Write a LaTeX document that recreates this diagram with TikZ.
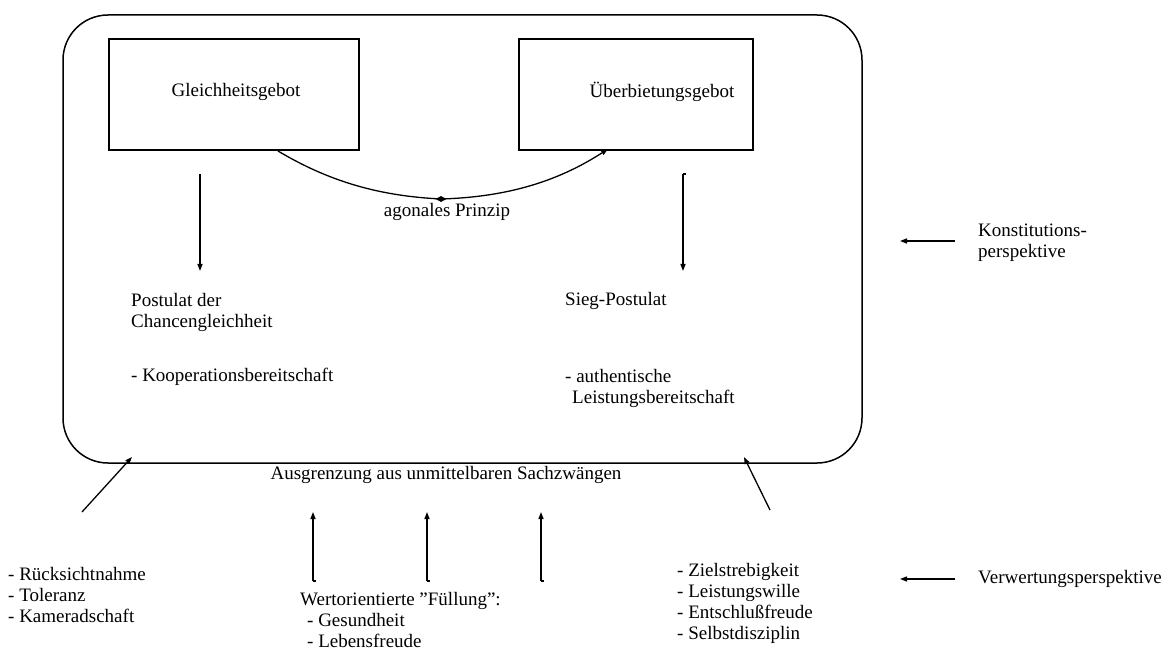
\documentclass[tikz,border=0pt]{standalone}
\usepackage{fontspec}
\setmainfont{Liberation Serif}
\usetikzlibrary{arrows.meta,shapes.geometric}
\begin{document}
\begin{tikzpicture}[x=1pt,y=-1pt,
  txt/.style={anchor=west,inner sep=0pt,font=\fontsize{19}{21}\selectfont,align=left},
  ctxt/.style={inner sep=0pt,font=\fontsize{19}{21}\selectfont,align=center},
  boxn/.style={draw,line width=1.3pt,inner sep=0pt},
  conn/.style={line width=1.3pt,-{Triangle[length=7pt,width=5pt]}},
  plain/.style={line width=1.3pt}]
\useasboundingbox (0,0) rectangle (1171,671);
% outer rounded frame
\draw[line width=1.5pt,rounded corners=45pt] (63,15) rectangle (862,463);
% top boxes
\node[boxn,minimum width=250pt,minimum height=111pt] (lbox) at (234,94.5) {};
\node[boxn,minimum width=234pt,minimum height=111pt] (rbox) at (636,94.5) {};
\node[ctxt] (gleich) at (236,92) {Gleichheitsgebot};
\node[ctxt] (ueber) at (662,92) {Überbietungsgebot};
% agonal curve
\coordinate (cl) at (278,151);
\coordinate (cr) at (608,149);
\node[diamond,fill,inner sep=0pt,minimum width=11pt,minimum height=6pt] (mid) at (441,199) {};
\draw[plain] (cl) .. controls (330,182) and (380,196) .. (mid.center);
\draw[conn] (mid.center) .. controls (510,197) and (560,180) .. (cr);
\node[ctxt] (agon) at (447,212) {agonales Prinzip};
% vertical arrows
\coordinate (la1) at (200,174);
\coordinate (la2) at (200,271);
\draw[conn] (la1) -- (la2);
\coordinate (ra1) at (683,174);
\coordinate (ra2) at (683,271);
\draw[conn] (ra1) -- (ra2);
\draw[plain] (683,174) -- (686,174);
% inner texts
\node[txt] (post) at (131,312) {Postulat der\\Chancengleichheit};
\node[txt] (sieg) at (565,301) {Sieg-Postulat};
\node[txt] (koop) at (131,377) {- Kooperationsbereitschaft};
\node[txt] (auth) at (565,388) {- authentische\\\hspace*{7pt}Leistungsbereitschaft};
\node[ctxt] (ausg) at (446,475) {Ausgrenzung aus unmittelbaren Sachzwängen};
% bottom up arrows
\foreach \x/\n in {313/a,427/b,541/c}{
  \coordinate (u\n1) at (\x,581);
  \coordinate (u\n2) at (\x,512);
  \draw[conn] (u\n1) -- (u\n2);
  \draw[plain] (\x,581) -- (\x+3,581);
}
\node[txt] (wert) at (300,620) {Wertorientierte "Füllung":\\\hspace*{7pt}- Gesundheit\\\hspace*{7pt}- Lebensfreude};
% diagonal arrows
\coordinate (dl1) at (82,512);
\coordinate (dl2) at (132,457);
\draw[conn] (dl1) -- (dl2);
\coordinate (dr1) at (770,510);
\coordinate (dr2) at (744,457);
\draw[conn] (dr1) -- (dr2);
\node[txt] (rueck) at (8,595) {- Rücksichtnahme\\- Toleranz\\- Kameradschaft};
\node[txt] (ziel) at (677,603) {- Zielstrebigkeit\\- Leistungswille\\- Entschlußfreude\\- Selbstdisziplin};
% perspectives
\coordinate (k1) at (955,241);
\coordinate (k2) at (900,241);
\draw[conn] (k1) -- (k2);
\node[txt] (konst) at (978,243) {Konstitutions-\\perspektive};
\coordinate (v1) at (955,579);
\coordinate (v2) at (900,579);
\draw[conn] (v1) -- (v2);
\node[txt] (verw) at (978,579) {Verwertungsperspektive};
\end{tikzpicture}
\end{document}
